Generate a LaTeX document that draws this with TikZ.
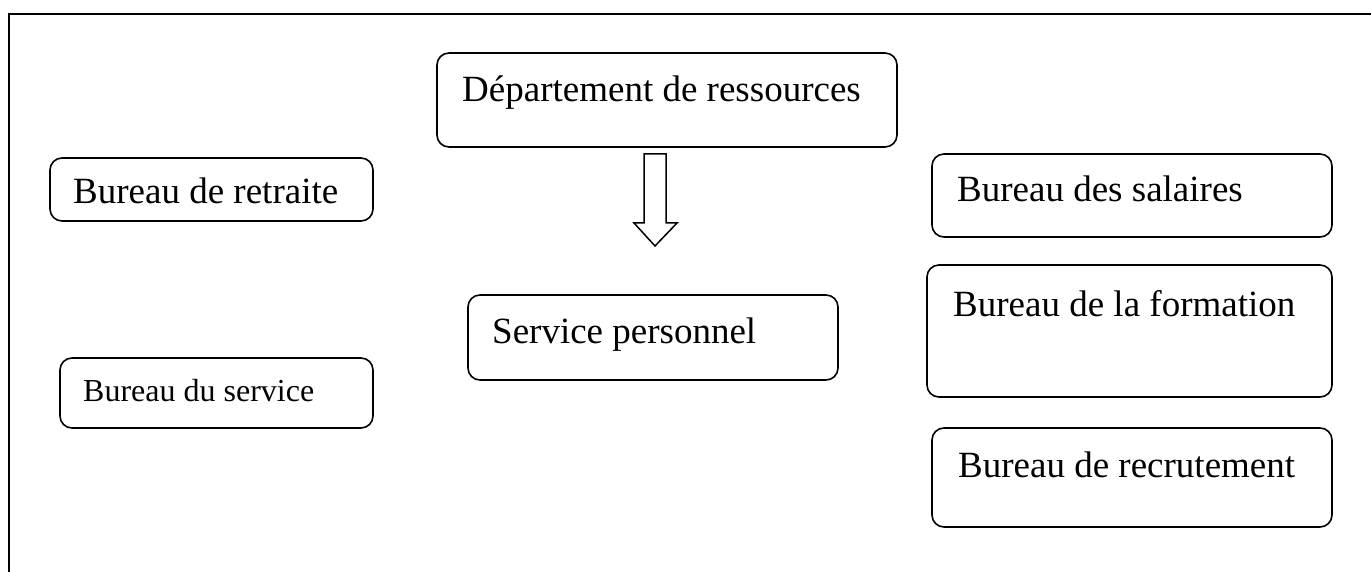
\documentclass[tikz,border=0pt]{standalone}
\usepackage{fontspec}
\setmainfont{Liberation Serif}
\begin{document}
\begin{tikzpicture}[x=1pt,y=-1pt,
  box/.style={draw=black, line width=1.6pt, rounded corners=12pt, inner sep=0pt},
  big/.style={inner sep=0pt, anchor=base west, font=\fontsize{37}{44}\selectfont},
  small/.style={inner sep=0pt, anchor=base west, font=\fontsize{32}{38}\selectfont},
  frameline/.style={draw=black, line width=1.8pt}]
  \useasboundingbox (0,0) rectangle (1371,572);
  % outer frame (top and left edges)
  \draw[frameline] (1371,14) -- (9,14) -- (9,572);

  % boxes: corner-to-corner rectangles
  \draw[box] (437,53)  rectangle (897,147);   % department
  \draw[box] (50,158)  rectangle (373,221);   % retirement
  \draw[box] (60,358)  rectangle (373,428);   % service office
  \draw[box] (468,295) rectangle (838,380);   % personnel service
  \draw[box] (932,154) rectangle (1332,237);  % salaries
  \draw[box] (927,265) rectangle (1332,397);  % training
  \draw[box] (932,428) rectangle (1332,527);  % recruitment

  % labels
  \node[big]   (dept)  at (462,102) {Département de ressources};
  \node[big]   (retr)  at (73,204)  {Bureau de retraite};
  \node[small] (serv)  at (83,401)  {Bureau du service};
  \node[big]   (pers)  at (492,343) {Service personnel};
  \node[big]   (sal)   at (957,202) {Bureau des salaires};
  \node[big]   (form)  at (953,316) {Bureau de la formation};
  \node[big]   (recr)  at (958,477) {Bureau de recrutement};

  % hollow block arrow
  \draw[line width=1.5pt, line join=miter]
    (644,154) -- (666,154) -- (666,223) -- (677,223) -- (655,246)
    -- (634,223) -- (644,223) -- cycle;
\end{tikzpicture}
\end{document}
